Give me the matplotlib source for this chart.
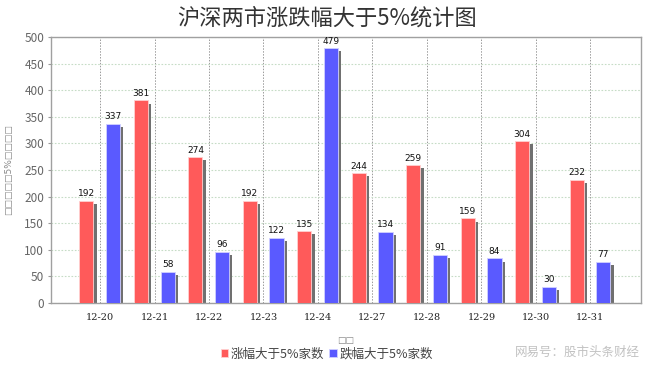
import matplotlib
matplotlib.use("Agg")
import matplotlib.pyplot as plt
import numpy as np

plt.rcParams['font.family'] = ['Noto Sans CJK SC', 'DejaVu Sans']

categories = ["12-20", "12-21", "12-22", "12-23", "12-24",
              "12-27", "12-28", "12-29", "12-30", "12-31"]
up_counts = [192, 381, 274, 192, 135, 244, 259, 159, 304, 232]
down_counts = [337, 58, 96, 122, 479, 134, 91, 84, 30, 77]
series_names = ["涨幅大于5%家数", "跌幅大于5%家数"]
y_ticks = list(range(0, 501, 50))

title = "沪深两市涨跌幅大于5%统计图"
ylabel = "□□□□□5%□□□□"
xlabel = "□□"
watermark = "网易号：股市头条财经"

red = "#FF5A5A"
blue = "#5A5AFF"
shadow = "#707070"

fig = plt.figure(figsize=(6.5, 3.66), dpi=100)
ax = fig.add_axes([51/650, 1-303/366, 590/650, 266/366])

x = np.arange(len(categories))
w = 0.26
off_r = -0.25
off_b = 0.24
sdx = 0.06
sdy = 6

for vals, off, col, name in [(up_counts, off_r, red, series_names[0]),
                             (down_counts, off_b, blue, series_names[1])]:
    ax.bar(x + off + sdx, [v - sdy for v in vals], width=w, color=shadow, zorder=2)
    ax.bar(x + off, vals, width=w, color=col, edgecolor="#ffd0d0" if col == red else "#d0d0ff",
           linewidth=0.6, zorder=3, label=name)
    for xi, v in zip(x, vals):
        ax.text(xi + off, v + 5, str(v), ha="center", va="bottom", fontsize=6.5,
                color="#111111", family="DejaVu Sans", zorder=4)

ax.set_xlim(-0.9, 9.93)
ax.set_ylim(0, 500)
ax.set_yticks(y_ticks)
ax.set_xticks(x)
ax.set_xticklabels(categories, fontsize=7, color="#222222", family="DejaVu Serif")
ax.tick_params(axis="y", labelsize=8.5, labelcolor="#666666", length=2, color="#999999", pad=3)
ax.tick_params(axis="x", length=0, pad=7)

ax.yaxis.grid(True, linestyle=(0, (1.5, 1.5)), color="#c6dcc6", linewidth=0.8, zorder=0)
ax.xaxis.grid(True, linestyle=(0, (1.5, 1.5)), color="#9a9a9a", linewidth=0.7, zorder=0)
ax.set_axisbelow(True)
for s in ax.spines.values():
    s.set_color("#a0a0a0")
    s.set_linewidth(1.0)

ax.set_ylabel(ylabel, fontsize=6.5, color="#888888", labelpad=8, family="DejaVu Sans")
ax.set_xlabel(xlabel, fontsize=6.5, color="#888888", labelpad=10, family="DejaVu Sans")

fig.text(0.503, 1-18/366, title, ha="center", va="center", fontsize=16,
         color="#333333", style="italic")

leg = fig.legend(loc="center", bbox_to_anchor=(0.503, 1-354/366), ncol=2, frameon=False,
                 fontsize=9, handlelength=0.6, handleheight=0.6, handletextpad=0.2,
                 columnspacing=0.4, labelcolor="#444444")

fig.text(0.985, 1-352/366, watermark, ha="right", va="center", fontsize=9,
         color="#bbbbbb", alpha=0.9)

fig.savefig("out.png", dpi=100)
